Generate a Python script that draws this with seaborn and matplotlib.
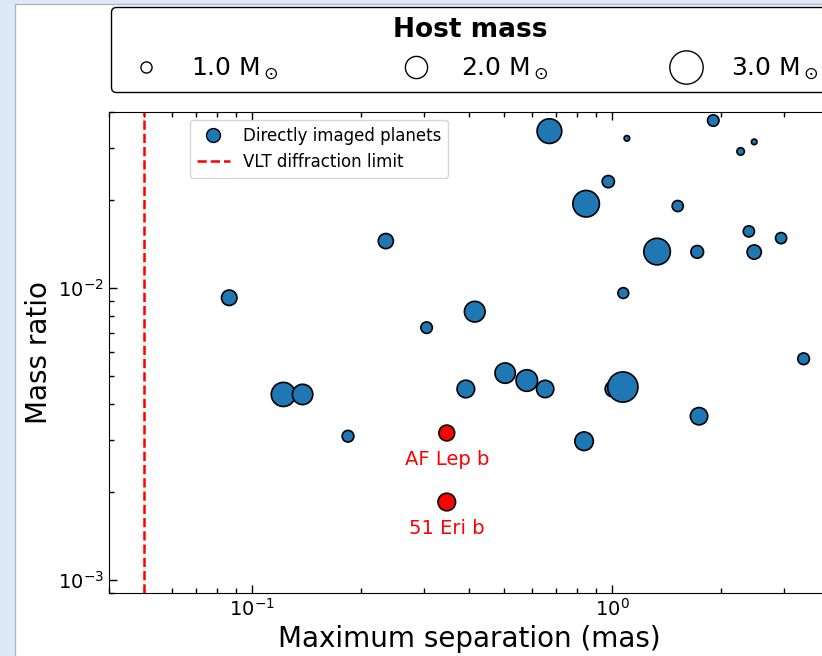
import matplotlib
matplotlib.use("Agg")
import numpy as np
import pandas as pd
import matplotlib.pyplot as plt
from matplotlib.lines import Line2D
from matplotlib.patches import Rectangle
import seaborn as sns

# directly imaged planets: max separation (mas), mass ratio, host mass (Msun)
sep = [0.0863, 0.235, 0.305, 0.415, 0.122, 0.138, 0.1845, 0.392, 0.504, 0.579,
       0.651, 1.006, 1.07, 0.835, 1.742, 3.40, 0.669, 1.098, 1.908, 2.273,
       2.479, 0.975, 0.846, 1.52, 1.332, 1.722, 2.396, 2.479, 2.944, 1.073]
ratio = [0.00924, 0.01445, 0.0073, 0.00828, 0.00431, 0.00431, 0.0031, 0.0045, 0.0051, 0.00481,
         0.0045, 0.0045, 0.00457, 0.00298, 0.00363, 0.00571, 0.0344, 0.0325, 0.0374, 0.0293,
         0.0316, 0.0231, 0.0194, 0.01905, 0.0133, 0.01327, 0.0156, 0.01325, 0.01479, 0.00959]
host_mass = [1.39, 1.36, 1.03, 1.86, 2.17, 1.83, 1.05, 1.58, 1.83, 1.94,
             1.56, 1.45, 2.72, 1.67, 1.56, 1.05, 2.22, 0.5, 1.03, 0.67,
             0.5, 1.1, 2.39, 1.0, 2.39, 1.14, 1.0, 1.28, 1.0, 0.97]

# highlighted planets
hl_names = ["AF Lep b", "51 Eri b"]
hl_sep = [0.347, 0.347]
hl_ratio = [0.00318, 0.001845]
hl_mass = [1.42, 1.58]

vlt_limit = 0.05
legend_masses = [1.0, 2.0, 3.0]

plt.rcParams['font.family'] = ['DejaVu Sans']

df = pd.DataFrame({"sep": sep, "ratio": ratio, "mass": host_mass})
hl = pd.DataFrame({"sep": hl_sep, "ratio": hl_ratio, "mass": hl_mass, "name": hl_names})

W, H = 822, 656
fig = plt.figure(figsize=(W / 100, H / 100), dpi=100, facecolor="#dde9f5")
# white window of the screenshot
fig.add_artist(Rectangle((15 / W, -0.05), 1.1, 1.05 - 4 / H, transform=fig.transFigure,
                         facecolor="white", edgecolor="#a9b8c6", lw=1, zorder=-1))
ax = fig.add_axes([109 / W, 63 / H, 720 / W, 481 / H])

sns.scatterplot(data=df, x="sep", y="ratio", s=(64 * df["mass"] ** 2).to_numpy(),
                color="#1f77b4", edgecolor="black", linewidth=1.2, legend=False, ax=ax, zorder=3)
sns.scatterplot(data=hl, x="sep", y="ratio", s=(64 * hl["mass"] ** 2).to_numpy(),
                color="red", edgecolor="black", linewidth=1.2, legend=False, ax=ax, zorder=3)
for name, x, y in zip(hl_names, hl_sep, hl_ratio):
    ax.annotate(name, (x, y), xytext=(0, -19), textcoords="offset points",
                ha="center", va="center", color="red", fontsize=14)

ax.axvline(vlt_limit, color="red", ls="--", lw=1.8)

ax.set_xscale("log")
ax.set_yscale("log")
ax.set_xlim(0.04, 4)
ax.set_ylim(9e-4, 0.04)
ax.set_xlabel("Maximum separation (mas)", fontsize=20)
ax.set_ylabel("Mass ratio", fontsize=20)
ax.tick_params(which="both", direction="in", top=True, right=False, labelsize=14, width=1)
ax.tick_params(which="major", length=6)
ax.tick_params(which="minor", length=3.5)

h1 = [Line2D([], [], marker="o", ls="", mfc="#1f77b4", mec="k", ms=10, label="Directly imaged planets"),
      Line2D([], [], color="red", ls="--", lw=1.8, label="VLT diffraction limit")]
leg1 = ax.legend(handles=h1, loc="upper left", bbox_to_anchor=(0.1125, 0.9834),
                 borderaxespad=0, fontsize=12)
ax.add_artist(leg1)

h2 = [Line2D([], [], marker="o", ls="", mfc="white", mec="k", ms=8 * m, mew=1,
             label=f"{m:.1f} M$_\\odot$") for m in legend_masses]
ax.legend(handles=h2, loc="lower left", bbox_to_anchor=(0.003, 1.0416, 0.997, 0.1),
          mode="expand", ncol=3, borderaxespad=0, fontsize=18, title="Host mass",
          title_fontproperties={"weight": "bold", "size": 19}, edgecolor="k", framealpha=1)

fig.savefig("out.png", dpi=100)
